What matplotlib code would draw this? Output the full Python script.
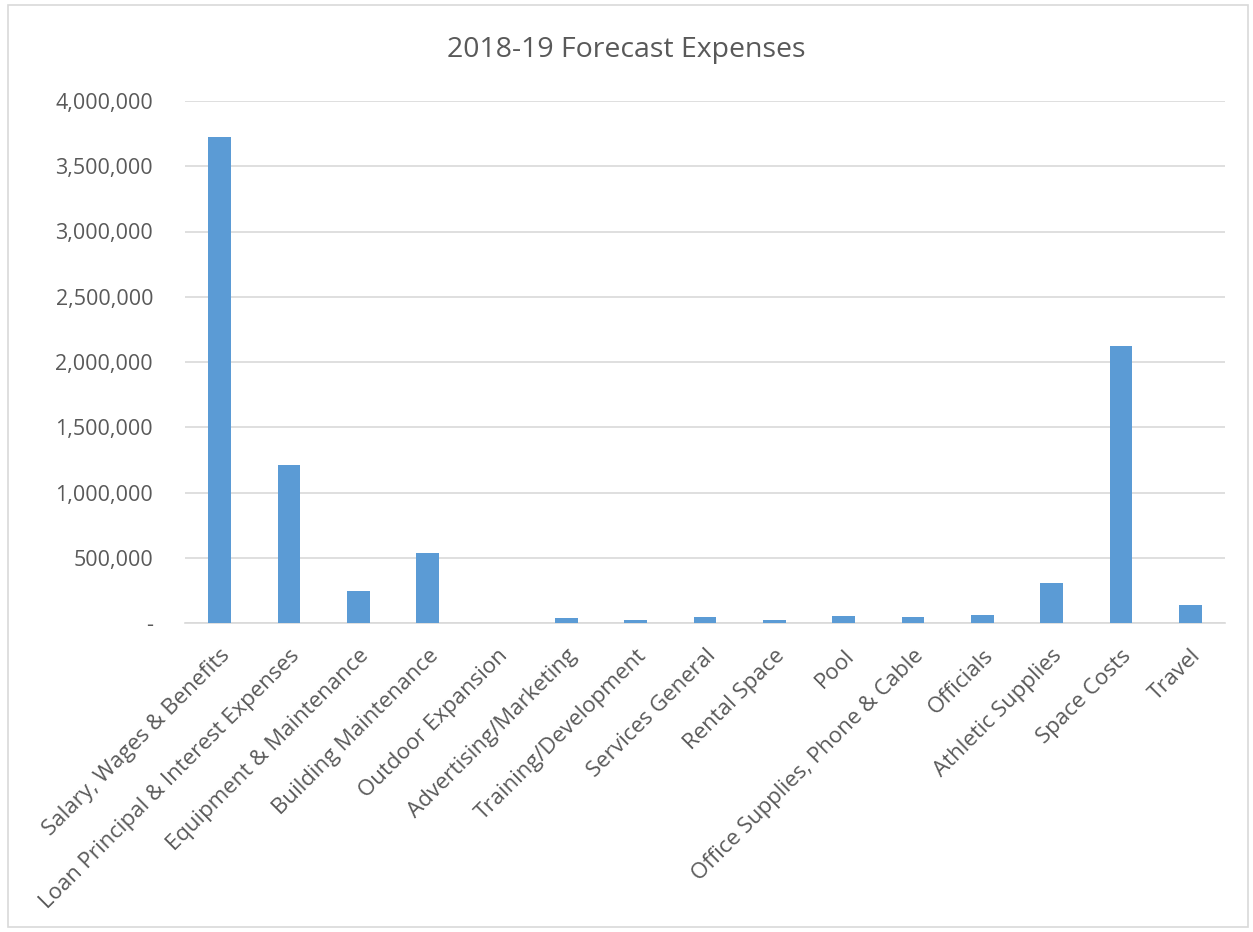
import matplotlib
matplotlib.use("Agg")
import matplotlib.pyplot as plt
from matplotlib.patches import Rectangle
from matplotlib.ticker import FuncFormatter

categories = [
    "Salary, Wages & Benefits",
    "Loan Principal & Interest Expenses",
    "Equipment & Maintenance",
    "Building Maintenance",
    "Outdoor Expansion",
    "Advertising/Marketing",
    "Training/Development",
    "Services General",
    "Rental Space",
    "Pool",
    "Office Supplies, Phone & Cable",
    "Officials",
    "Athletic Supplies",
    "Space Costs",
    "Travel",
]
expenses = [3724000, 1210000, 245000, 536000, 0, 40000, 23000, 48000,
            20000, 56000, 46000, 62000, 310000, 2122000, 136000]
yticks = [0, 500000, 1000000, 1500000, 2000000, 2500000, 3000000, 3500000, 4000000]

plt.rcParams['font.family'] = ['Open Sans', 'DejaVu Sans']
text_color = "#595959"

fig = plt.figure(figsize=(12.53, 9.32), dpi=100)
ax = fig.add_axes([185 / 1253, 1 - 623 / 932, 1040 / 1253, 522 / 932])

x = range(len(categories))
ax.bar(x, expenses, width=0.33, color="#5B9BD5", zorder=3)

ax.set_xlim(-0.5, len(categories) - 0.5)
ax.set_ylim(0, 4000000)
ax.set_yticks(yticks)
ax.yaxis.set_major_formatter(FuncFormatter(lambda v, p: "-" if v == 0 else "{:,.0f}".format(v)))
ax.set_xticks(list(x))
ax.set_xticklabels(categories, rotation=45, ha="right", rotation_mode="anchor")

ax.grid(axis="y", color="#D9D9D9", linewidth=1.2, zorder=0)
for s in ["top", "right", "left"]:
    ax.spines[s].set_visible(False)
ax.spines["bottom"].set_color("#D9D9D9")
ax.spines["bottom"].set_linewidth(1.2)
ax.tick_params(axis="both", length=0, colors=text_color)
ax.tick_params(axis="y", pad=23, labelsize=15.5)
ax.tick_params(axis="x", pad=16, labelsize=16)

fig.text(0.5, 1 - 50 / 932, "2018-19 Forecast Expenses", ha="center", va="center",
         fontsize=20.5, color=text_color)

fig.patches.append(Rectangle((8 / 1253, 0.005), 1240 / 1253, 1 - 10 / 932, transform=fig.transFigure,
                             fill=False, edgecolor="#D9D9D9", linewidth=1.2))

fig.savefig("out.png", dpi=100, facecolor="white")
